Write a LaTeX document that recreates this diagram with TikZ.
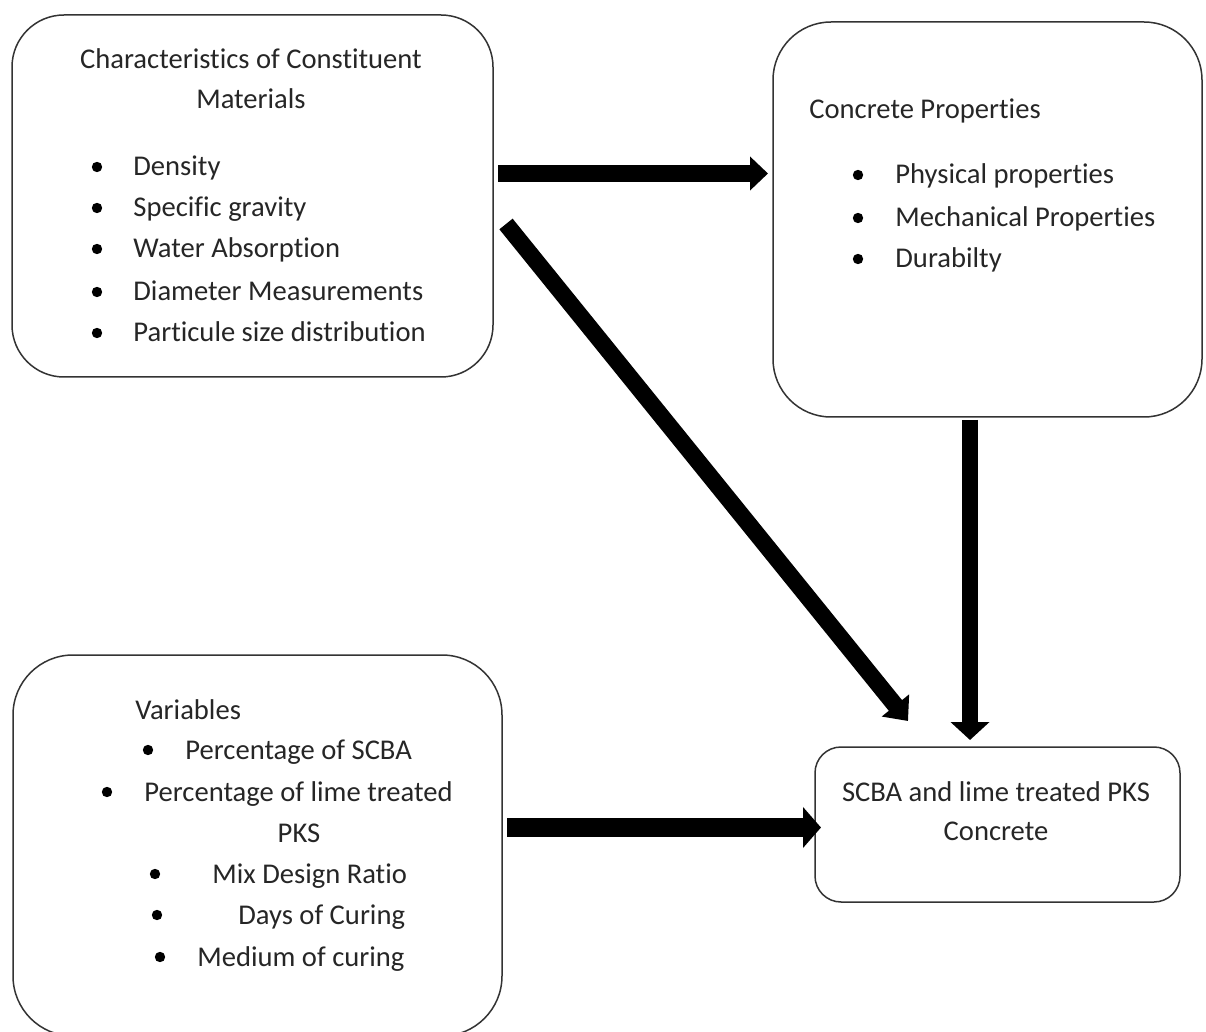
\documentclass[tikz,border=0pt]{standalone}
\usepackage{fontspec}
\setmainfont{Carlito}[Ligatures=NoCommon]
\usetikzlibrary{arrows.meta}
\begin{document}
\begin{tikzpicture}[x=0.5pt,y=-0.5pt,
  box/.style={draw=black!80, line width=0.75pt, inner sep=0pt, fill=none},
  txt/.style={inner sep=0pt, font=\fontsize{14.3}{17}\selectfont, text=black!85},
  bul/.style={fill=black},
  bigarrow/.style={line width=8.5pt, draw=black, -{Triangle[length=9pt,width=17pt]}}]
\useasboundingbox (0,0) rectangle (1206,1032);
\fill[white] (0,0) rectangle (1206,1032);

% boxes
\node[box, rounded corners=26pt, minimum width=240.5pt, minimum height=181pt] (b1) at (252.5,196) {};
\node[box, rounded corners=29pt, minimum width=214.5pt, minimum height=197.5pt] (b2) at (987.5,219.5) {};
\node[box, rounded corners=30pt, minimum width=244.5pt, minimum height=190.5pt] (b3) at (257.5,845.5) {};
\node[box, rounded corners=13pt, minimum width=182.5pt, minimum height=77.5pt] (b4) at (997.5,824.5) {};

% box 1 text
\node[txt, anchor=base] (t1a) at (251,69) {Characteristics of Constituent};
\node[txt, anchor=base] (t1b) at (251,109) {Materials};
\foreach \y/\t [count=\i] in {176/Density, 217/Specific gravity, 258/Water Absorption, 301/Diameter Measurements, 342/Particule size distribution}{
  \fill[bul] (97,\y-9) circle (2.6pt);
  \node[txt, anchor=base west] (t1l\i) at (133,\y) {\t};
}

% box 2 text
\node[txt, anchor=base west] (t2a) at (809,119) {Concrete Properties};
\foreach \y/\t [count=\i] in {184/Physical properties, 227/Mechanical Properties, 268/Durabilty}{
  \fill[bul] (858,\y-9) circle (2.6pt);
  \node[txt, anchor=base west] (t2l\i) at (895,\y) {\t};
}

% box 3 text
\node[txt, anchor=base west] (t3a) at (135,719) {Variables};
\fill[bul] (148,750) circle (2.6pt);
\node[txt, anchor=base west] (t3b) at (185,759) {Percentage of SCBA};
\fill[bul] (107,792) circle (2.6pt);
\node[txt, anchor=base west] (t3c) at (144,801) {Percentage of lime treated};
\node[txt, anchor=base] (t3d) at (299,842) {PKS};
\fill[bul] (155,874) circle (2.6pt);
\node[txt, anchor=base west] (t3e) at (212,883) {Mix Design Ratio};
\fill[bul] (157,915) circle (2.6pt);
\node[txt, anchor=base west] (t3f) at (238,924) {Days of Curing};
\fill[bul] (160,957) circle (2.6pt);
\node[txt, anchor=base west] (t3g) at (197,966) {Medium of curing};

% box 4 text
\node[txt, anchor=base] (t4a) at (996,801) {SCBA and lime treated PKS};
\node[txt, anchor=base] (t4b) at (996,840) {Concrete};

% arrows
\coordinate (a1s) at (498,173.5);
\coordinate (a1e) at (768,173.5);
\coordinate (a2s) at (506,224);
\coordinate (a2e) at (908,721);
\coordinate (a3s) at (970,420);
\coordinate (a3e) at (970,740);
\coordinate (a4s) at (507,827.5);
\coordinate (a4e) at (821,827.5);
\draw[bigarrow, -{Triangle[length=9pt,width=16.5pt]}] (a1s) -- (a1e);
\draw[bigarrow, -{Triangle[length=10pt,width=17pt]}] (a2s) -- (a2e);
\draw[bigarrow, line width=8pt, -{Triangle[length=9pt,width=19pt]}] (a3s) -- (a3e);
\draw[bigarrow, line width=9.5pt, -{Triangle[length=9pt,width=20pt]}] (a4s) -- (a4e);
\end{tikzpicture}
\end{document}
